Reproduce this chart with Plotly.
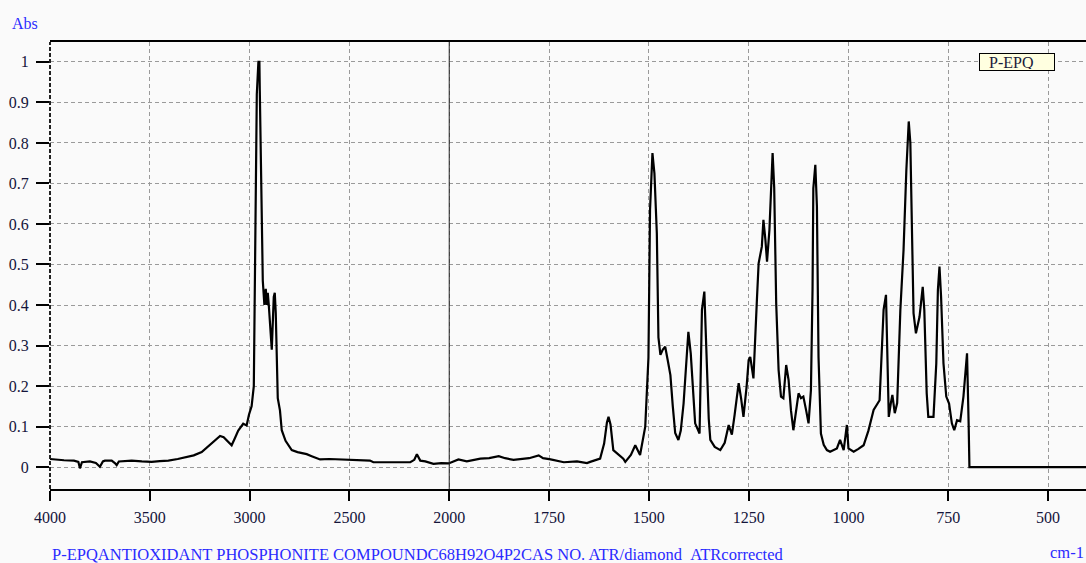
import plotly.graph_objects as go

# ---------------- data ----------------
wavenumber = [
    4000, 3983, 3930, 3880, 3858, 3850, 3840, 3800, 3770, 3750, 3735, 3725, 3691, 3675,
    3666, 3655, 3620, 3591, 3540, 3491, 3450, 3407, 3360, 3324, 3280, 3240, 3190, 3165,
    3148, 3130, 3115, 3090, 3075, 3057, 3032, 3015, 3003, 2990, 2979, 2974, 2969, 2964,
    2956, 2951, 2949, 2944, 2939, 2934, 2926, 2919, 2914, 2909, 2904, 2899, 2894, 2889,
    2879, 2874, 2869, 2864, 2859, 2848, 2839, 2820, 2800, 2789, 2760, 2739, 2714, 2689,
    2647, 2600, 2550, 2497, 2450, 2397, 2380, 2300, 2250, 2195, 2175, 2162, 2150, 2145,
    2120, 2079, 2040, 2003, 1977, 1965, 1956, 1922, 1900, 1876, 1860, 1839, 1800, 1776,
    1765, 1746, 1713, 1680, 1655, 1647, 1622, 1612, 1605, 1601, 1596, 1589, 1575, 1564,
    1559, 1545, 1534, 1528, 1522, 1509, 1501, 1497, 1491, 1486, 1480, 1476, 1471, 1465,
    1459, 1452, 1446, 1440, 1434, 1426, 1420, 1413, 1405, 1401, 1395, 1388, 1384, 1373,
    1370, 1367, 1361, 1358, 1355, 1350, 1346, 1335, 1321, 1310, 1300, 1292, 1285, 1275,
    1269, 1263, 1255, 1250, 1246, 1238, 1229, 1225, 1217, 1213, 1208, 1204, 1198, 1196,
    1190, 1186, 1181, 1175, 1169, 1163, 1156, 1150, 1144, 1138, 1129, 1125, 1119, 1113,
    1106, 1100, 1094, 1090, 1088, 1083, 1079, 1075, 1069, 1062, 1054, 1046, 1029, 1021,
    1012, 1004, 1000, 987, 975, 962, 950, 937, 922, 916, 912, 906, 903, 899,
    894, 890, 884, 878, 870, 862, 855, 849, 845, 841, 837, 831, 822, 814,
    810, 804, 800, 787, 780, 776, 772, 768, 762, 755, 748, 741, 735, 728,
    720, 712, 703, 699, 697, 400,
]
absorbance = [
    0.020, 0.019, 0.017, 0.016, 0.013, -0.003, 0.012, 0.014, 0.010, 0.001, 0.014, 0.016, 0.016, 0.010,
    0.005, 0.014, 0.015, 0.016, 0.014, 0.013, 0.015, 0.016, 0.020, 0.024, 0.029, 0.037, 0.058, 0.070,
    0.077, 0.074, 0.066, 0.054, 0.070, 0.090, 0.107, 0.103, 0.130, 0.150, 0.200, 0.420, 0.750, 0.920,
    1.000, 1.000, 0.930, 0.750, 0.580, 0.460, 0.400, 0.440, 0.400, 0.430, 0.400, 0.360, 0.300, 0.290,
    0.420, 0.430, 0.380, 0.250, 0.170, 0.140, 0.091, 0.065, 0.050, 0.042, 0.037, 0.035, 0.032, 0.027,
    0.019, 0.020, 0.019, 0.019, 0.018, 0.016, 0.012, 0.013, 0.012, 0.012, 0.018, 0.032, 0.020, 0.016,
    0.014, 0.008, 0.010, 0.009, 0.019, 0.016, 0.014, 0.021, 0.022, 0.027, 0.022, 0.018, 0.022, 0.029,
    0.022, 0.019, 0.012, 0.014, 0.010, 0.013, 0.021, 0.058, 0.110, 0.124, 0.105, 0.042, 0.030, 0.021,
    0.013, 0.030, 0.054, 0.040, 0.030, 0.100, 0.270, 0.635, 0.775, 0.725, 0.577, 0.320, 0.277, 0.290,
    0.297, 0.260, 0.227, 0.150, 0.084, 0.067, 0.090, 0.157, 0.280, 0.334, 0.280, 0.170, 0.108, 0.083,
    0.200, 0.388, 0.433, 0.350, 0.231, 0.120, 0.067, 0.050, 0.042, 0.060, 0.104, 0.080, 0.130, 0.207,
    0.170, 0.124, 0.200, 0.264, 0.272, 0.219, 0.420, 0.503, 0.544, 0.610, 0.560, 0.507, 0.585, 0.630,
    0.775, 0.690, 0.404, 0.240, 0.174, 0.170, 0.252, 0.215, 0.140, 0.091, 0.149, 0.182, 0.170, 0.174,
    0.140, 0.108, 0.190, 0.437, 0.688, 0.746, 0.643, 0.272, 0.083, 0.055, 0.042, 0.038, 0.046, 0.067,
    0.042, 0.104, 0.046, 0.038, 0.045, 0.054, 0.090, 0.141, 0.165, 0.281, 0.388, 0.425, 0.322, 0.124,
    0.157, 0.178, 0.133, 0.158, 0.388, 0.536, 0.733, 0.853, 0.800, 0.593, 0.380, 0.330, 0.371, 0.445,
    0.388, 0.182, 0.124, 0.124, 0.256, 0.437, 0.495, 0.420, 0.256, 0.174, 0.157, 0.108, 0.091, 0.116,
    0.113, 0.174, 0.281, 0.108, 0.000, 0.000,
]
x_ticks = [4000, 3500, 3000, 2500, 2000, 1750, 1500, 1250, 1000, 750, 500]
y_ticks = [0, 0.1, 0.2, 0.3, 0.4, 0.5, 0.6, 0.7, 0.8, 0.9, 1]
y_tick_labels = ["0", "0.1", "0.2", "0.3", "0.4", "0.5", "0.6", "0.7", "0.8", "0.9", "1"]
legend_name = "P-EPQ"
footer_text = "P-EPQANTIOXIDANT PHOSPHONITE COMPOUNDC68H92O4P2CAS NO. ATR/diamond\u00a0\u00a0ATRcorrected"


# IR-style split scale: 2x expansion below 2000 cm-1
def to_axis(w):
    return 4000 - w if w >= 2000 else 2000 + 2 * (2000 - w)


xs = [to_axis(w) for w in wavenumber]
SERIF = "Liberation Serif, Times New Roman, serif"
TICK_COLOR = "#14143a"
BLUE = "#2a2aff"
GRID_DASH = "4px,3px"

fig = go.Figure()
fig.add_trace(go.Scatter(x=xs, y=absorbance, mode="lines",
                         line=dict(color="black", width=2.2), hoverinfo="skip",
                         showlegend=False))

fig.update_layout(
    width=1086, height=563,
    margin=dict(l=50, r=0, t=42, b=74),
    paper_bgcolor="#fafafa", plot_bgcolor="#fafafa",
    xaxis=dict(
        range=[0, 5190], tickvals=[to_axis(v) for v in x_ticks],
        ticktext=[str(v) for v in x_ticks],
        showgrid=True, gridcolor="#9a9a9a", griddash=GRID_DASH, gridwidth=1,
        showline=True, linecolor="black", linewidth=2, mirror=True,
        ticks="outside", ticklen=10, tickwidth=2, tickcolor="black",
        ticklabelstandoff=3,
        tickfont=dict(family=SERIF, size=16, color=TICK_COLOR),
        zeroline=False, fixedrange=True,
    ),
    yaxis=dict(
        range=[-0.054, 1.049], tickvals=y_ticks, ticktext=y_tick_labels,
        showgrid=True, gridcolor="#9a9a9a", griddash=GRID_DASH, gridwidth=1,
        showline=False,
        ticks="outside", ticklen=13, tickwidth=2, tickcolor="black",
        ticklabelstandoff=4,
        tickfont=dict(family=SERIF, size=16, color=TICK_COLOR),
        zeroline=False, fixedrange=True,
    ),
    shapes=[
        dict(type="line", xref="x", yref="paper", x0=to_axis(2000), x1=to_axis(2000),
             y0=0, y1=1, line=dict(color="#222222", width=1)),
        dict(type="line", xref="paper", yref="paper", x0=0, x1=0, y0=0, y1=1,
             line=dict(color="#222222", width=2, dash="4px,2px")),
    ],
    annotations=[
        dict(text="Abs", xref="paper", yref="paper", x=-0.039, y=1.042,
             xanchor="left", yanchor="middle", showarrow=False,
             font=dict(family=SERIF, size=16, color=BLUE)),
        dict(text=footer_text, xref="paper", yref="paper", x=0.0, y=-0.147,
             xanchor="left", yanchor="middle", showarrow=False,
             font=dict(family=SERIF, size=16.5, color=BLUE)),
        dict(text="cm-1", xref="paper", yref="paper", x=1.0, y=-0.143,
             xanchor="right", yanchor="middle", showarrow=False,
             font=dict(family=SERIF, size=16.5, color=BLUE)),
        dict(text="\u00a0\u00a0" + legend_name, xref="paper", yref="paper",
             x=0.8967, y=0.955, xanchor="left", yanchor="middle", showarrow=False,
             align="left", width=72, height=14, bgcolor="#ffffe0",
             bordercolor="black", borderwidth=1, borderpad=1,
             font=dict(family=SERIF, size=16, color="#1a1a3a")),
    ],
)

fig.write_html("out.html", config={"displayModeBar": False},
               post_script="document.body.style.margin='0';")
